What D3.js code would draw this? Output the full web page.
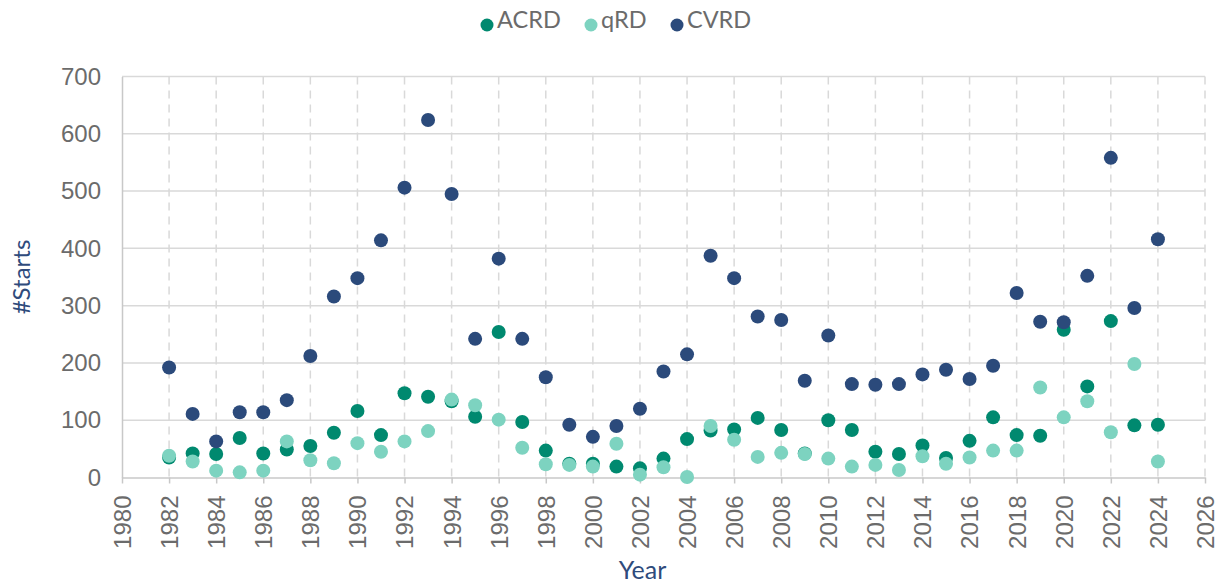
<!DOCTYPE html>
<html>
<head>
<meta charset="utf-8">
<script src="https://cdn.jsdelivr.net/npm/d3@7"></script>
<style>
  body { margin: 0; background: #fff; }
  svg { display: block; font-family: Lato, "Noto Sans", sans-serif; }
</style>
</head>
<body>
<svg id="chart" width="1215" height="585"></svg>
<script>
// data
var years = d3.range(1982, 2025);
var acrd = [35, 42, 41, 69, 42, 49, 55, 78, 116, 74, 147, 141, 133, 106, 254,
   97, 47, 24, 24, 19, 16, 33, 67, 82, 84, 104, 83, 42, 100,
   83, 45, 41, 56, 34, 64, 105, 74, 73, 258, 159, 273, 91, 92];
var qrd = [38, 28, 12, 9, 12, 63, 30, 25, 60, 45, 63, 81, 136, 126, 101,
   52, 23, 22, 19, 59, 5, 18, 1, 90, 66, 36, 43, 41, 33,
   19, 22, 13, 37, 24, 35, 47, 47, 157, 105, 133, 79, 198, 28];
var cvrd = [192, 111, 63, 114, 114, 135, 212, 316, 348, 414, 506, 624, 495, 242, 382,
   242, 175, 92, 71, 90, 120, 185, 215, 387, 348, 281, 275, 169, 248,
   163, 162, 163, 180, 188, 172, 195, 322, 272, 271, 352, 558, 296, 416];
var xTicks = d3.range(1980, 2027, 2);
var yTicks = d3.range(0, 701, 100);

var series = [
   { name: "ACRD", values: acrd, color: "#00896F" },
   { name: "qRD", values: qrd, color: "#7DD3C0" },
   { name: "CVRD", values: cvrd, color: "#2B4A7B" }
];

var margin = { left: 122, top: 76.5, right: 10, bottom: 107.5 },
   width = 1215 - margin.left - margin.right,
   height = 585 - margin.top - margin.bottom;

var svg = d3.select("svg#chart");
var g = svg.append("g")
   .attr("transform", "translate(" + margin.left + "," + margin.top + ")");

var x = d3.scaleLinear().domain([1980, 2026]).range([0, width]);
var y = d3.scaleLinear().domain([0, 700]).range([height, 0]);

// horizontal grid
g.append("g")
   .selectAll("line")
   .data(yTicks.slice(1))
   .enter()
   .append("line")
   .attr("x1", 0)
   .attr("x2", width)
   .attr("y1", (d) => y(d))
   .attr("y2", (d) => y(d))
   .attr("stroke", "#d9d9d9")
   .attr("stroke-width", 1.5);

// vertical dashed grid
g.append("g")
   .selectAll("line")
   .data(xTicks.slice(1))
   .enter()
   .append("line")
   .attr("x1", (d) => x(d))
   .attr("x2", (d) => x(d))
   .attr("y1", 0)
   .attr("y2", height)
   .attr("stroke", "#d9d9d9")
   .attr("stroke-width", 1.5)
   .attr("stroke-dasharray", "8,6");

// x axis
var xAxis = g.append("g")
   .attr("transform", "translate(0," + height + ")")
   .call(d3.axisBottom(x).tickValues(xTicks).tickFormat(d3.format("d")).tickSize(6).tickSizeOuter(0));
xAxis.select(".domain").attr("stroke", "#c8c8c8").attr("stroke-width", 1.5);
xAxis.selectAll(".tick line").attr("stroke", "#c8c8c8").attr("stroke-width", 1.5);
xAxis.selectAll(".tick text")
   .attr("fill", "#6b6b6b")
   .style("font-size", "24px")
   .attr("transform", "rotate(-90)")
   .attr("text-anchor", "end")
   .attr("x", -18)
   .attr("y", 0)
   .attr("dy", "0.35em");

// y axis
var yAxis = g.append("g")
   .call(d3.axisLeft(y).tickValues(yTicks).tickSize(0).tickPadding(21));
yAxis.select(".domain").attr("stroke", "#c8c8c8").attr("stroke-width", 1.5);
yAxis.selectAll(".tick text")
   .attr("fill", "#6b6b6b")
   .style("font-size", "24px");

// axis titles
svg.append("text")
   .attr("transform", "translate(30," + (margin.top + height / 2) + ") rotate(-90)")
   .attr("text-anchor", "middle")
   .attr("fill", "#2F4B7C")
   .style("font-size", "24px")
   .text("#Starts");

svg.append("text")
   .attr("x", margin.left + width / 2 - 21)
   .attr("y", 579)
   .attr("text-anchor", "middle")
   .attr("fill", "#2F4B7C")
   .style("font-size", "25px")
   .text("Year");

// dots
series.forEach(function (s) {
   g.append("g")
      .selectAll("circle")
      .data(s.values)
      .enter()
      .append("circle")
      .attr("cx", (d, i) => x(years[i]))
      .attr("cy", (d) => y(d))
      .attr("r", 7)
      .attr("fill", s.color);
});

// legend
var legendX = [487, 591, 677];
var legend = svg.append("g");
series.forEach(function (s, i) {
   legend.append("circle")
      .attr("cx", legendX[i])
      .attr("cy", 25)
      .attr("r", 6.5)
      .attr("fill", s.color);
   legend.append("text")
      .attr("x", legendX[i] + 10)
      .attr("y", 28)
      .attr("fill", "#6b6b6b")
      .style("font-size", "23.5px")
      .text(s.name);
});
</script>
</body>
</html>
